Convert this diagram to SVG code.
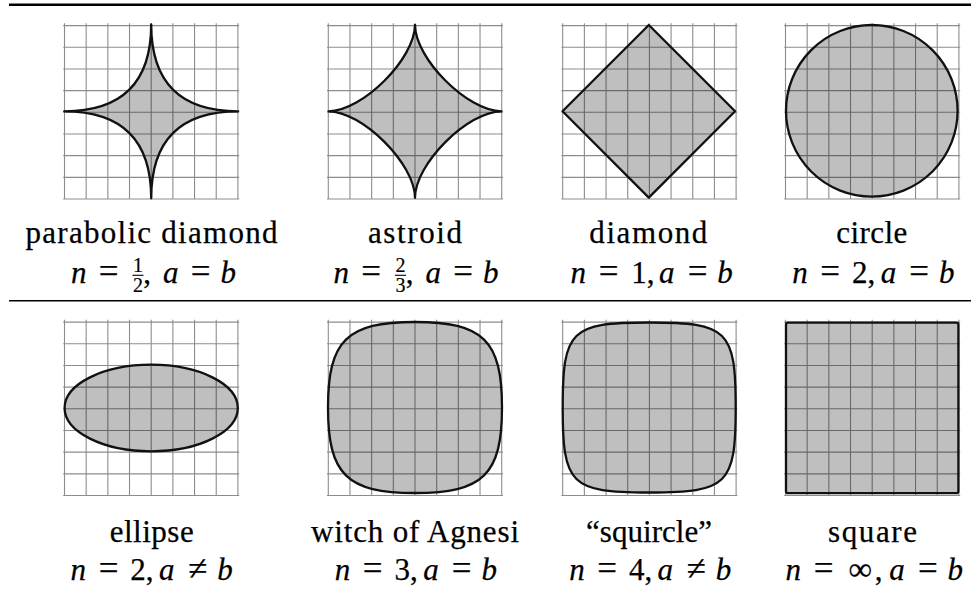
<svg xmlns="http://www.w3.org/2000/svg" width="971" height="596" viewBox="0 0 971 596">
<style>
.grid{fill:none;stroke:#000;stroke-opacity:0.45;stroke-width:1.1}
.shape{fill:#000;fill-opacity:0.25;stroke:#111;stroke-width:2.3;stroke-linejoin:round}
.rule{stroke:#000}
.lbl{font-family:"Liberation Serif","Times New Roman",serif;font-size:31px;text-anchor:middle;fill:#000;stroke:#000;stroke-width:0.25}
.i{font-style:italic}
.eq{font-size:35px}
.inf{font-size:33px}
.f{font-family:"Liberation Serif","Times New Roman",serif;font-size:20px;text-anchor:middle;fill:#000;stroke:#000;stroke-width:0.2}
.bar{stroke:#000;stroke-width:1.1}
</style>
<defs>
<path id="grid" class="grid" d="M-86.7-89V86.7M-65.03-89V86.7M-43.35-89V86.7M-21.68-89V86.7M0-89V86.7M21.68-89V86.7M43.35-89V86.7M65.03-89V86.7M86.7-89V86.7M-88-86.7H88M-88-65.03H88M-88-43.35H88M-88-21.68H88M-88 0H88M-88 21.68H88M-88 43.35H88M-88 65.03H88M-88 86.7H88"/>
</defs>
<rect width="971" height="596" fill="#fff"/>
<g id="rules">
<line class="rule" x1="9" y1="4.7" x2="971" y2="4.7" stroke-width="2.6"/>
<line class="rule" x1="9" y1="300.8" x2="971" y2="300.8" stroke-width="1.5"/>
</g>

<g id="parabolic-diamond">
<use href="#grid" transform="translate(151.2 112.3)"/>
<path class="shape" d="M238.2,111.3 Q151.2,111.3 151.2,198.3 Q151.2,111.3 64.2,111.3 Q151.2,111.3 151.2,24.3 Q151.2,111.3 238.2,111.3 Z"/>
<text class="lbl" x="151.5" y="243.3" textLength="252" lengthAdjust="spacing">parabolic diamond</text>
<text class="lbl" y="283"><tspan class="i" x="78.7">n</tspan><tspan class="eq" x="108.5">=</tspan><tspan x="147">,</tspan><tspan class="i" x="170.8">a</tspan><tspan class="eq" x="200.5">=</tspan><tspan class="i" x="228.3">b</tspan></text>
<text class="f" x="138" y="271.5">1</text>
<line class="bar" x1="132.5" y1="275.3" x2="143.5" y2="275.3"/>
<text class="f" x="138" y="291.8">2</text>
</g>

<g id="astroid">
<use href="#grid" transform="translate(415 112.3)"/>
<path class="shape" d="M501.5,111.3 C467.72,111.3 415,164.02 415,197.8 C415,164.02 362.28,111.3 328.5,111.3 C362.28,111.3 415,58.58 415,24.8 C415,58.58 467.72,111.3 501.5,111.3 Z"/>
<text class="lbl" x="415" y="243.3" textLength="94" lengthAdjust="spacing">astroid</text>
<text class="lbl" y="283"><tspan class="i" x="341.2">n</tspan><tspan class="eq" x="371">=</tspan><tspan x="409.5">,</tspan><tspan class="i" x="433.3">a</tspan><tspan class="eq" x="463">=</tspan><tspan class="i" x="490.8">b</tspan></text>
<text class="f" x="400.5" y="271.5">2</text>
<line class="bar" x1="395" y1="275.3" x2="406" y2="275.3"/>
<text class="f" x="400.5" y="291.8">3</text>
</g>

<g id="diamond">
<use href="#grid" transform="translate(649.4 112.3)"/>
<path class="shape" d="M735.1,111.3 L648.8,197.6 L562.5,111.3 L648.8,25 Z"/>
<text class="lbl" x="648.3" y="243.3" textLength="118" lengthAdjust="spacing">diamond</text>
<text class="lbl" y="283"><tspan class="i" x="578.3">n</tspan><tspan class="eq" x="608.5">=</tspan><tspan x="642.8">1,</tspan><tspan class="i" x="666.7">a</tspan><tspan class="eq" x="697.5">=</tspan><tspan class="i" x="725">b</tspan></text>
</g>

<g id="circle">
<use href="#grid" transform="translate(872.2 112.3)"/>
<circle class="shape" cx="871.8" cy="110.8" r="85.8"/>
<text class="lbl" x="871.7" y="243.3" textLength="71" lengthAdjust="spacing">circle</text>
<text class="lbl" y="283"><tspan class="i" x="800">n</tspan><tspan class="eq" x="830.2">=</tspan><tspan x="863.6">2,</tspan><tspan class="i" x="888.4">a</tspan><tspan class="eq" x="919.2">=</tspan><tspan class="i" x="946.7">b</tspan></text>
</g>

<g id="ellipse">
<use href="#grid" transform="translate(151.2 408.8)"/>
<ellipse class="shape" cx="151.2" cy="408" rx="86.6" ry="43.3"/>
<text class="lbl" x="151.7" y="541.7" textLength="84" lengthAdjust="spacing">ellipse</text>
<text class="lbl" y="580"><tspan class="i" x="78.3">n</tspan><tspan class="eq" x="108.5">=</tspan><tspan x="141.9">2,</tspan><tspan class="i" x="166.7">a</tspan><tspan class="eq" x="197.5">≠</tspan><tspan class="i" x="225">b</tspan></text>
</g>

<g id="witch-of-agnesi">
<use href="#grid" transform="translate(415 408.8)"/>
<path class="shape" d="M502,407.5 C502,474.46 483.14,493 415,493 C346.86,493 328,474.46 328,407.5 C328,340.54 346.86,322 415,322 C483.14,322 502,340.54 502,407.5 Z"/>
<text class="lbl" x="415" y="541.7" textLength="208" lengthAdjust="spacing">witch of Agnesi</text>
<text class="lbl" y="580"><tspan class="i" x="342.5">n</tspan><tspan class="eq" x="372.7">=</tspan><tspan x="406.1">3,</tspan><tspan class="i" x="430.9">a</tspan><tspan class="eq" x="461.7">=</tspan><tspan class="i" x="489.2">b</tspan></text>
</g>

<g id="squircle">
<use href="#grid" transform="translate(649.4 408.8)"/>
<path class="shape" d="M735.7,407.5 C735.7,484.77 727.84,492.5 649.2,492.5 C570.56,492.5 562.7,484.77 562.7,407.5 C562.7,330.23 570.56,322.5 649.2,322.5 C727.84,322.5 735.7,330.23 735.7,407.5 Z"/>
<text class="lbl" x="649" y="541.7" textLength="126" lengthAdjust="spacing">“squircle”</text>
<text class="lbl" y="580"><tspan class="i" x="576.9">n</tspan><tspan class="eq" x="607.1">=</tspan><tspan x="640.5">4,</tspan><tspan class="i" x="665.3">a</tspan><tspan class="eq" x="696.1">≠</tspan><tspan class="i" x="723.6">b</tspan></text>
</g>

<g id="square">
<use href="#grid" transform="translate(872.2 408.8)"/>
<rect class="shape" x="786" y="322.7" width="172.4" height="170.5" rx="2"/>
<text class="lbl" x="872.5" y="541.7" textLength="89" lengthAdjust="spacing">square</text>
<text class="lbl" y="580"><tspan class="i" x="793.3">n</tspan><tspan class="eq" x="823.5">=</tspan><tspan class="inf" x="860.3">∞</tspan><tspan x="878.5">,</tspan><tspan class="i" x="897">a</tspan><tspan class="eq" x="927.8">=</tspan><tspan class="i" x="955.3">b</tspan></text>
</g>
</svg>
